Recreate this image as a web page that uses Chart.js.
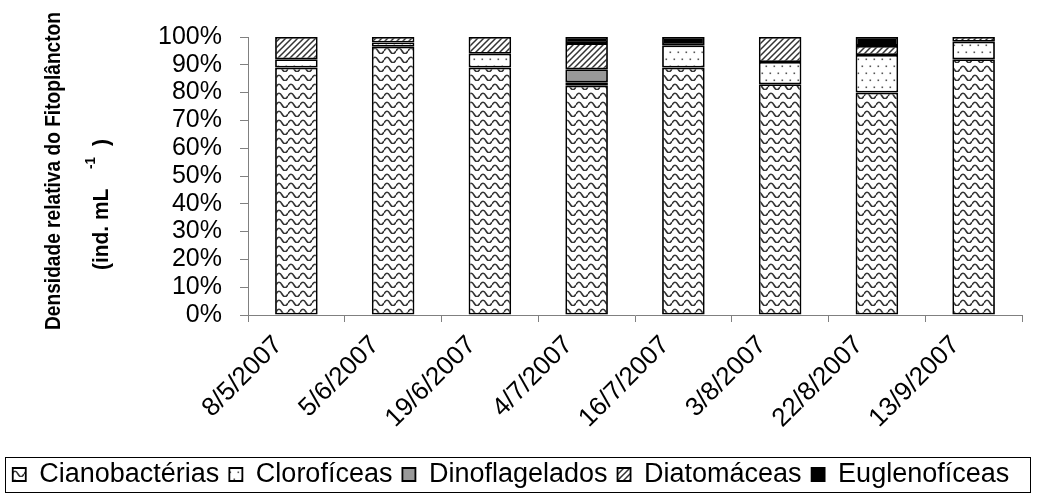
<!DOCTYPE html>
<html>
<head>
<meta charset="utf-8">
<script src="https://cdn.jsdelivr.net/npm/chart.js@4"></script>
<style>
html,body{margin:0;padding:0;background:#fff;}
#wrap{width:1037px;height:495px;position:relative;}
</style>
</head>
<body>
<div id="wrap"><canvas id="c" width="1037" height="495"></canvas></div>
<script>
const categories = ['8/5/2007','5/6/2007','19/6/2007','4/7/2007','16/7/2007','3/8/2007','22/8/2007','13/9/2007'];
const cianobacterias = [89, 96.5, 89, 82.5, 89, 83, 80, 92];
const cloroficeas    = [3, 1.5, 5, 1.2, 8, 8, 13.5, 6.3];
const dinoflagelados = [0, 0, 0, 4.7, 0, 0, 0, 0];
const diatomaceas    = [8, 2, 6, 9.4, 0, 9, 3.3, 1.7];
const euglenoficeas  = [0, 0, 0, 2.2, 3, 0, 3.2, 0];
const yTicks = [0,10,20,30,40,50,60,70,80,90,100];

const FONT = '"Liberation Sans", Arial, sans-serif';

function makePattern(w, h, draw) {
  const cv = document.createElement('canvas');
  cv.width = w; cv.height = h;
  const g = cv.getContext('2d');
  g.fillStyle = '#fff'; g.fillRect(0,0,w,h);
  draw(g, w, h);
  return document.getElementById('c').getContext('2d').createPattern(cv, 'repeat');
}
const wavePat = makePattern(12, 9, (g,w,h)=>{
  g.strokeStyle = '#333'; g.lineWidth = 1.6;
  g.beginPath();
  g.moveTo(0, 6);
  g.quadraticCurveTo(3, 0.5, 6, 6);
  g.quadraticCurveTo(9, 11.5, 12, 6);
  g.stroke();
});
const dotPat = makePattern(8, 14, (g)=>{
  g.fillStyle = '#555';
  g.fillRect(1.5, 2.5, 1.6, 1.6);
  g.fillRect(5.5, 9.5, 1.6, 1.6);
});
const hatchPat = makePattern(6, 6, (g,w,h)=>{
  g.strokeStyle = '#333'; g.lineWidth = 1.5;
  g.beginPath();
  g.moveTo(-1, 7); g.lineTo(7, -1);
  g.moveTo(-1, 1); g.lineTo(1, -1);
  g.moveTo(5, 7); g.lineTo(7, 5);
  g.stroke();
});

function ds(label, data, bg) {
  return { label, data: data.map(v => v === 0 ? null : v), backgroundColor: bg, borderColor: '#000', borderWidth: 1.8,
           borderSkipped: false, barPercentage: 0.44, categoryPercentage: 1.0 };
}

const titlePlugin = {
  id: 'yTitle',
  afterDraw(chart) {
    const ctx = chart.ctx;
    ctx.save();
    ctx.fillStyle = '#000';
    ctx.font = 'bold 22px ' + FONT;
    ctx.textBaseline = 'alphabetic';
    ctx.translate(60, 171);
    ctx.rotate(-Math.PI/2);
    ctx.scale(0.87, 1);
    ctx.textAlign = 'center';
    ctx.fillText('Densidade relativa do Fitoplâncton', 0, 0);
    ctx.restore();

    ctx.save();
    ctx.fillStyle = '#000';
    ctx.translate(102, 0);
    ctx.rotate(-Math.PI/2);
    ctx.textAlign = 'left';
    const put = (txt, font, pageY, dy) => {
      ctx.save();
      ctx.font = font;
      ctx.translate(-pageY, dy);
      ctx.scale(0.95, 1);
      ctx.fillText(txt, 0, 0);
      ctx.restore();
    };
    put('(ind. mL', 'bold 22px ' + FONT, 270, 0);
    put('-1', 'bold 14px ' + FONT, 169, -11);
    put(')', 'bold 22px ' + FONT, 146, 0);
    ctx.restore();

    const L = chart.legend;
    if (L && L.legendHitBoxes && L.legendHitBoxes.length) {
      const hb = L.legendHitBoxes[0];
      const cy = hb.top + hb.height/2;
      ctx.save();
      ctx.strokeStyle = '#000'; ctx.lineWidth = 1;
      ctx.strokeRect(5.5, Math.round(cy - 18) + 0.5, 1025, 35);
      ctx.restore();
    }
  }
};

new Chart(document.getElementById('c'), {
  type: 'bar',
  data: {
    labels: categories,
    datasets: [
      ds('Cianobactérias', cianobacterias, wavePat),
      ds('Clorofíceas', cloroficeas, dotPat),
      ds('Dinoflagelados', dinoflagelados, '#999999'),
      ds('Diatomáceas', diatomaceas, hatchPat),
      ds('Euglenofíceas', euglenoficeas, '#000000')
    ]
  },
  options: {
    responsive: false,
    animation: false,
    devicePixelRatio: 1,
    layout: { padding: { left: 0, right: 15, top: 37, bottom: -3 } },
    plugins: {
      legend: {
        position: 'bottom',
        labels: {
          color: '#000', boxWidth: 13, boxHeight: 13, padding: 10,
          font: { family: FONT, size: 27 }
        }
      },
      tooltip: { enabled: false }
    },
    scales: {
      x: {
        stacked: true,
        grid: { display: true, drawOnChartArea: false, tickLength: 7, color: '#808080', offset: true },
        border: { color: '#808080', width: 1 },
        ticks: { color: '#000', font: { family: FONT, size: 26 }, minRotation: 45, maxRotation: 45, padding: 8, labelOffset: -18, autoSkip: false },
        afterFit(s) { s.height = 495 + 3 - s.chart.legend.height - 315; }
      },
      y: {
        stacked: true, min: 0, max: 100,
        grid: { display: true, drawOnChartArea: false, tickLength: 8, color: '#808080' },
        border: { color: '#808080', width: 1 },
        afterBuildTicks(s) { s.ticks = yTicks.map(v => ({ value: v })); },
        ticks: { color: '#000', font: { family: FONT, size: 25 }, padding: 18, autoSkip: false, callback: v => v + '%' },
        afterFit(s) { s.width = 248; }
      }
    }
  },
  plugins: [titlePlugin]
});
</script>
</body>
</html>
